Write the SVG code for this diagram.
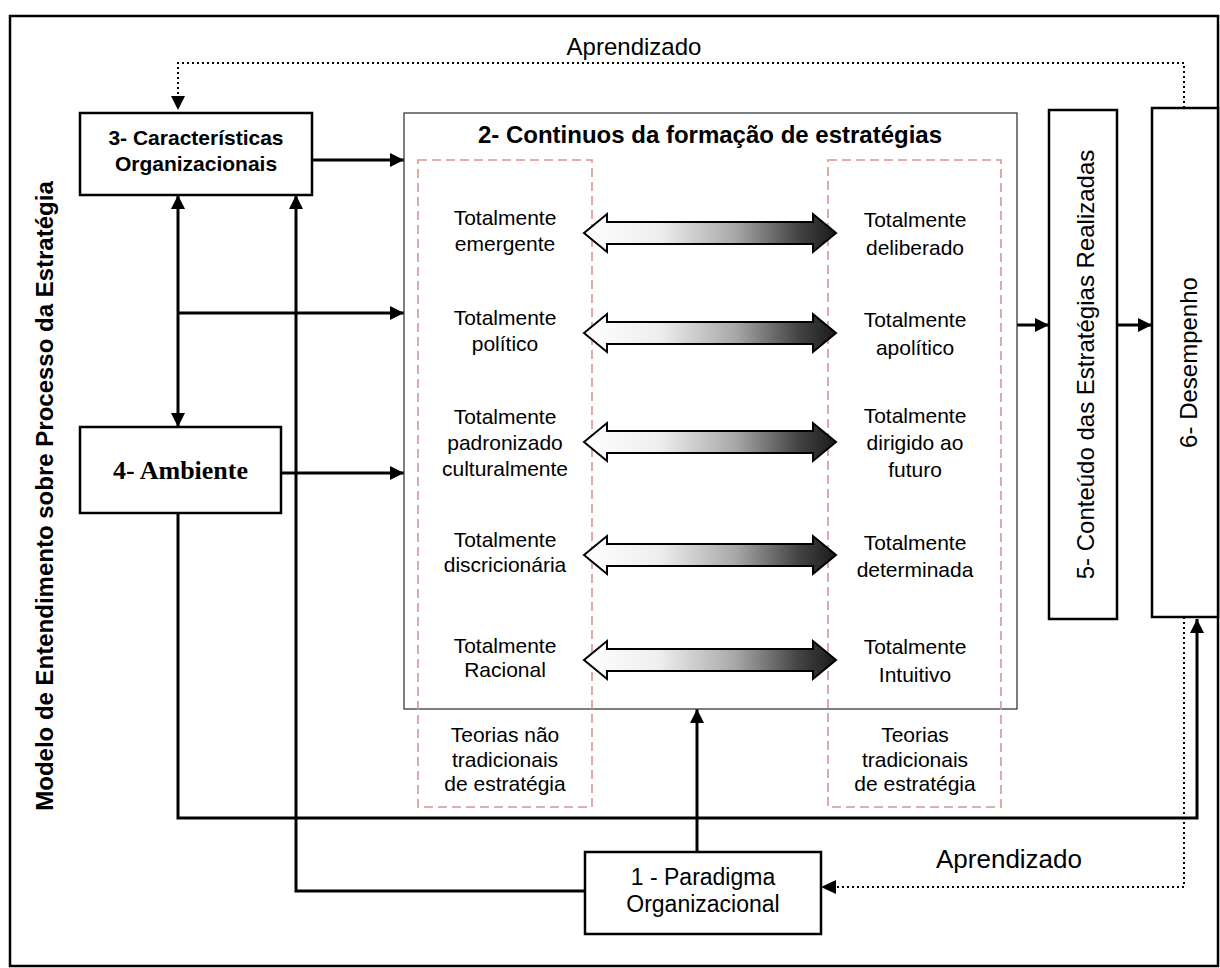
<svg xmlns="http://www.w3.org/2000/svg" width="1220" height="968" viewBox="0 0 1220 968">
  <style>
    .box { fill: #ffffff; stroke: #000000; stroke-width: 2.5; }
    .thin { fill: none; stroke: #3a3a3a; stroke-width: 1.3; }
    .zone { fill: none; stroke: #d99594; stroke-width: 1.6; stroke-dasharray: 9 5; }
    .link { fill: none; stroke: #000000; stroke-width: 3; }
    .dot { fill: none; stroke: #000000; stroke-width: 2; stroke-dasharray: 2 3; }
    .sans { font-family: "Liberation Sans", Arial, sans-serif; fill: #000000; }
    .bold { font-weight: bold; }
    .lbl { font-size: 21px; text-anchor: middle; }
    .big { font-size: 23px; text-anchor: middle; }
    .side { font-size: 24px; text-anchor: middle; }
  </style>
  <defs>
    <marker id="head" viewBox="0 0 10 10" refX="10" refY="5" markerUnits="userSpaceOnUse" markerWidth="15" markerHeight="14" orient="auto-start-reverse">
      <path d="M0,0 L10,5 L0,10 z" fill="#000000"/>
    </marker>
    <linearGradient id="shade" x1="0" y1="0" x2="1" y2="0">
      <stop offset="0" stop-color="#ffffff"/>
      <stop offset="0.3" stop-color="#eeeeee"/>
      <stop offset="0.6" stop-color="#a8a8a8"/>
      <stop offset="0.85" stop-color="#444444"/>
      <stop offset="1" stop-color="#1a1a1a"/>
    </linearGradient>
    <!-- two-headed shaded arrow, centred on y = 0 -->
    <path id="twoway" d="M584,0 L607,-19 L607,-11 L813,-11 L813,-19 L836,0 L813,19 L813,11 L607,11 L607,19 z" fill="url(#shade)" stroke="#000000" stroke-width="2" stroke-linejoin="miter"/>
  </defs>

  <rect width="1220" height="968" fill="#ffffff"/>

  <!-- outer frame and side title -->
  <g id="frame">
    <rect x="10" y="16" width="1208" height="950" fill="none" stroke="#000000" stroke-width="2.5"/>
    <text class="sans bold" font-size="24" text-anchor="middle" transform="translate(53,496) rotate(-90)">Modelo de Entendimento sobre Processo da Estratégia</text>
  </g>

  <!-- connectors -->
  <g id="connectors">
    <!-- learning feedback loops -->
    <polyline class="dot" points="1184,108 1184,63 178,63 178,96"/>
    <path d="M171,96 L185,96 L178,110 z" fill="#000000"/>
    <polyline class="dot" points="1184,617 1184,887 836,887"/>
    <path d="M836,880 L836,894 L821,887 z" fill="#000000"/>
    <!-- into the continuum box -->
    <line class="link" x1="312" y1="160" x2="404" y2="160" marker-end="url(#head)"/>
    <line class="link" x1="178" y1="313" x2="404" y2="313" marker-end="url(#head)"/>
    <line class="link" x1="281" y1="473" x2="404" y2="473" marker-end="url(#head)"/>
    <!-- between 3 and 4 -->
    <line class="link" x1="178" y1="195" x2="178" y2="427" marker-start="url(#head)" marker-end="url(#head)"/>
    <!-- paradigm feeds 3 -->
    <polyline class="link" points="585,891 296,891 296,195" marker-end="url(#head)"/>
    <!-- paradigm feeds 2 -->
    <line class="link" x1="697" y1="852" x2="697" y2="709" marker-end="url(#head)"/>
    <!-- environment to performance -->
    <polyline class="link" points="178,513 178,818 1197,818 1197,619" marker-end="url(#head)"/>
    <!-- 2 -> 5 -> 6 -->
    <line class="link" x1="1017" y1="325" x2="1049" y2="325" marker-end="url(#head)"/>
    <line class="link" x1="1117" y1="325" x2="1152" y2="325" marker-end="url(#head)"/>
  </g>

  <text class="sans" font-size="24" text-anchor="middle" x="634" y="55">Aprendizado</text>
  <text class="sans" font-size="26" text-anchor="middle" x="1009" y="868">Aprendizado</text>

  <g id="node-3">
    <rect class="box" x="80" y="113" width="232" height="82"/>
    <text class="sans bold" font-size="21" text-anchor="middle" x="196" y="145">3- Características</text>
    <text class="sans bold" font-size="21" text-anchor="middle" x="196" y="171">Organizacionais</text>
  </g>

  <g id="node-4">
    <rect class="box" x="80" y="427" width="201" height="86"/>
    <text font-family="'Liberation Serif', 'Times New Roman', serif" font-weight="bold" font-size="26" text-anchor="middle" x="180.5" y="479">4- Ambiente</text>
  </g>

  <g id="node-2">
    <rect class="thin" x="404" y="113" width="613" height="596"/>
    <text class="sans bold" font-size="24" text-anchor="middle" x="710" y="143">2- Continuos da formação de estratégias</text>
    <rect class="zone" x="418" y="160" width="174" height="647"/>
    <rect class="zone" x="828" y="160" width="173" height="647"/>

    <use href="#twoway" y="233"/>
    <use href="#twoway" y="333"/>
    <use href="#twoway" y="442"/>
    <use href="#twoway" y="555"/>
    <use href="#twoway" y="660"/>

    <g class="sans lbl">
      <text x="505" y="225">Totalmente</text>
      <text x="505" y="251">emergente</text>
      <text x="915" y="227">Totalmente</text>
      <text x="915" y="255">deliberado</text>

      <text x="505" y="325">Totalmente</text>
      <text x="505" y="351">político</text>
      <text x="915" y="327">Totalmente</text>
      <text x="915" y="355">apolítico</text>

      <text x="505" y="424">Totalmente</text>
      <text x="505" y="450">padronizado</text>
      <text x="505" y="476">culturalmente</text>
      <text x="915" y="423">Totalmente</text>
      <text x="915" y="450">dirigido ao</text>
      <text x="915" y="477">futuro</text>

      <text x="505" y="547">Totalmente</text>
      <text x="505" y="572">discricionária</text>
      <text x="915" y="550">Totalmente</text>
      <text x="915" y="577">determinada</text>

      <text x="505" y="653">Totalmente</text>
      <text x="505" y="677">Racional</text>
      <text x="915" y="654">Totalmente</text>
      <text x="915" y="682">Intuitivo</text>

      <text x="505" y="742">Teorias não</text>
      <text x="505" y="767">tradicionais</text>
      <text x="505" y="791">de estratégia</text>
      <text x="915" y="742">Teorias</text>
      <text x="915" y="767">tradicionais</text>
      <text x="915" y="791">de estratégia</text>
    </g>
  </g>

  <g id="node-5">
    <rect class="box" x="1049" y="110" width="68" height="509"/>
    <text class="sans side" transform="translate(1094,364.5) rotate(-90)">5- Conteúdo das Estratégias Realizadas</text>
  </g>

  <g id="node-6">
    <rect class="box" x="1152" y="108" width="66" height="509" stroke-width="3"/>
    <text class="sans side" transform="translate(1197,362.5) rotate(-90)">6- Desempenho</text>
  </g>

  <g id="node-1">
    <rect class="box" x="585" y="852" width="236" height="82"/>
    <text class="sans big" x="703" y="885">1 - Paradigma</text>
    <text class="sans big" x="703" y="912">Organizacional</text>
  </g>
</svg>
